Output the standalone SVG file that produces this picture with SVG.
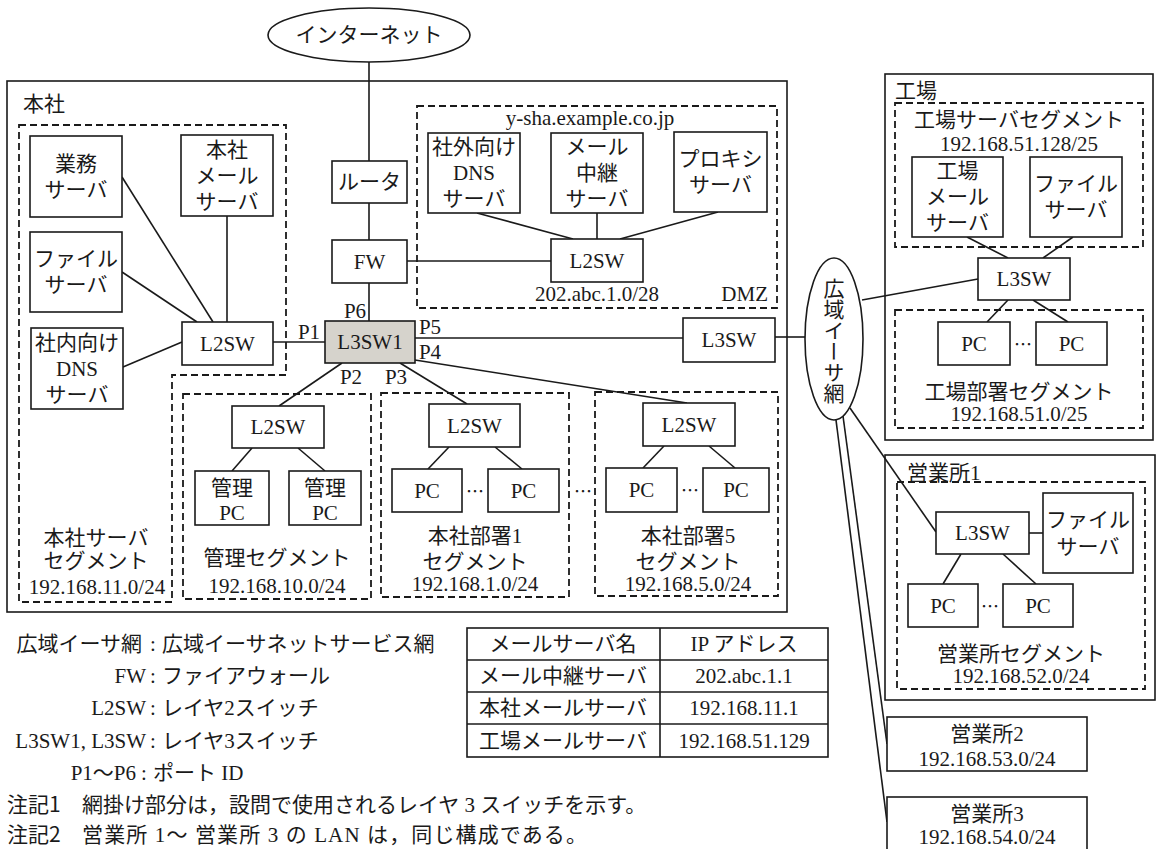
<svg xmlns="http://www.w3.org/2000/svg" width="1161" height="849" viewBox="0 0 1161 849">
<style>
text{font-family:"Liberation Serif","Noto Sans CJK JP",serif;font-size:21px;fill:#1a1a1a}
.m{text-anchor:middle}
.e{text-anchor:end}
.g{font-family:"Noto Sans CJK JP",sans-serif}
.b{fill:#fff;stroke:#1a1a1a;stroke-width:1.6}
.d{fill:none;stroke:#1a1a1a;stroke-width:1.8;stroke-dasharray:7 4}
.l{fill:none;stroke:#1a1a1a;stroke-width:1.6}
.dot{font-family:"Noto Sans CJK JP",sans-serif;font-size:18px;text-anchor:middle;dominant-baseline:central}
</style>
<rect width="1161" height="849" fill="#fff"/>

<g id="honsha">
<rect class="l" x="7" y="81" width="780" height="531"/>
<text x="23" y="111">本社</text>
</g>
<g id="seg-server">
<polygon class="d" points="19,125 286,125 286,375 172,375 172,602 19,602"/>
<text class="m" x="96" y="545">本社サーバ</text>
<text class="m" x="96" y="568">セグメント</text>
<text class="m" x="97" y="594">192.168.11.0/24</text>
</g>
<g id="dmz">
<rect class="d" x="417" y="106" width="360" height="202"/>
<text class="m" x="590" y="125">y-sha.example.co.jp</text>
<text class="m" x="597" y="301">202.abc.1.0/28</text>
<text class="e" x="768" y="301">DMZ</text>
</g>
<g id="seg-kanri">
<rect class="d" x="183" y="394" width="188" height="205"/>
<text class="m" x="277" y="565">管理セグメント</text>
<text class="m" x="277" y="593">192.168.10.0/24</text>
</g>
<g id="seg-bu1">
<rect class="d" x="381" y="393" width="188" height="204"/>
<text class="m" x="475" y="543">本社部署1</text>
<text class="m" x="475" y="569">セグメント</text>
<text class="m" x="475" y="591">192.168.1.0/24</text>
</g>
<g id="seg-bu5">
<rect class="d" x="595" y="392" width="183" height="204"/>
<text class="m" x="688" y="543">本社部署5</text>
<text class="m" x="688" y="569">セグメント</text>
<text class="m" x="688" y="591">192.168.5.0/24</text>
</g>
<g id="kojo">
<rect class="l" x="885" y="74" width="268" height="366"/>
<text x="895" y="98">工場</text>
</g>
<g id="seg-kojo-srv">
<rect class="d" x="895" y="103" width="248" height="144"/>
<text class="m" x="1019" y="127">工場サーバセグメント</text>
<text class="m" x="1019" y="151">192.168.51.128/25</text>
</g>
<g id="seg-kojo-bu">
<rect class="d" x="895" y="310" width="248" height="118"/>
<text class="m" x="1019" y="399">工場部署セグメント</text>
<text class="m" x="1019" y="421">192.168.51.0/25</text>
</g>
<g id="eigyo1">
<rect class="l" x="885" y="455" width="270" height="245"/>
<text x="907" y="480">営業所1</text>
</g>
<g id="seg-eigyo">
<rect class="d" x="897" y="482" width="248" height="207"/>
<text class="m" x="1021" y="661">営業所セグメント</text>
<text class="m" x="1021" y="683">192.168.52.0/24</text>
</g>

<g id="connectors">
<line class="l" x1="369" y1="62" x2="369" y2="161"/>
<line class="l" x1="369" y1="203" x2="369" y2="240"/>
<line class="l" x1="369" y1="283" x2="369" y2="321"/>
<line class="l" x1="407" y1="261" x2="551" y2="261"/>
<line class="l" x1="477" y1="213" x2="573" y2="239"/>
<line class="l" x1="597" y1="213" x2="597" y2="239"/>
<line class="l" x1="718" y1="212" x2="620" y2="239"/>
<line class="l" x1="122" y1="177" x2="213" y2="322"/>
<line class="l" x1="122" y1="272" x2="197" y2="322"/>
<line class="l" x1="227" y1="216" x2="227" y2="322"/>
<line class="l" x1="123" y1="367" x2="182" y2="342"/>
<line class="l" x1="273" y1="342" x2="325" y2="342"/>
<line class="l" x1="342" y1="363" x2="279" y2="406"/>
<line class="l" x1="400" y1="363" x2="467" y2="404"/>
<line class="l" x1="415" y1="360" x2="687" y2="403"/>
<line class="l" x1="415" y1="338" x2="683" y2="338"/>
<line class="l" x1="252" y1="448" x2="232" y2="471"/>
<line class="l" x1="298" y1="448" x2="325" y2="471"/>
<line class="l" x1="449" y1="447" x2="428" y2="469"/>
<line class="l" x1="495" y1="447" x2="522" y2="469"/>
<line class="l" x1="664" y1="446" x2="643" y2="468"/>
<line class="l" x1="709" y1="446" x2="735" y2="468"/>
<line class="l" x1="775" y1="337" x2="805" y2="337"/>
<line class="l" x1="862" y1="300" x2="978" y2="279"/>
<line class="l" x1="967" y1="237" x2="1008" y2="258"/>
<line class="l" x1="1073" y1="237" x2="1043" y2="258"/>
<line class="l" x1="1008" y1="300" x2="987" y2="322"/>
<line class="l" x1="1033" y1="300" x2="1068" y2="322"/>
<line class="l" x1="850" y1="408" x2="936" y2="532"/>
<line class="l" x1="1029" y1="533" x2="1043" y2="533"/>
<line class="l" x1="961" y1="554" x2="943" y2="584"/>
<line class="l" x1="1003" y1="554" x2="1036" y2="584"/>
<line class="l" x1="843" y1="416" x2="887" y2="744"/>
<line class="l" x1="836" y1="420" x2="887" y2="822"/>
</g>

<g id="internet">
<ellipse class="b" cx="369" cy="35" rx="101" ry="27"/>
<text class="m" x="369" y="42">インターネット</text>
</g>
<g id="gyomu-server">
<rect class="b" x="30" y="136" width="92" height="81"/>
<text class="m" x="76" y="171">業務</text>
<text class="m" x="76" y="197">サーバ</text>
</g>
<g id="honsha-mail">
<rect class="b" x="181" y="135" width="92" height="81"/>
<text class="m" x="227" y="157">本社</text>
<text class="m" x="227" y="183">メール</text>
<text class="m" x="227" y="209">サーバ</text>
</g>
<g id="file-hq">
<rect class="b" x="30" y="232" width="92" height="80"/>
<text class="m" x="76" y="266">ファイル</text>
<text class="m" x="76" y="292">サーバ</text>
</g>
<g id="dns-int">
<rect class="b" x="31" y="328" width="92" height="81"/>
<text class="m" x="77" y="350">社内向け</text>
<text class="m" x="77" y="376">DNS</text>
<text class="m" x="77" y="402">サーバ</text>
</g>
<g id="l2sw-srv">
<rect class="b" x="182" y="322" width="91" height="43"/>
<text class="m" x="227.5" y="351">L2SW</text>
</g>
<g id="router">
<rect class="b" x="332" y="161" width="75" height="42"/>
<text class="m" x="369.5" y="189">ルータ</text>
</g>
<g id="fw">
<rect class="b" x="332" y="240" width="75" height="43"/>
<text class="m" x="369.5" y="269">FW</text>
</g>
<g id="dns-ext">
<rect class="b" x="428" y="133" width="92" height="80"/>
<text class="m" x="474" y="154">社外向け</text>
<text class="m" x="474" y="180">DNS</text>
<text class="m" x="474" y="206">サーバ</text>
</g>
<g id="mail-relay">
<rect class="b" x="551" y="133" width="92" height="80"/>
<text class="m" x="597" y="154">メール</text>
<text class="m" x="597" y="180">中継</text>
<text class="m" x="597" y="206">サーバ</text>
</g>
<g id="proxy">
<rect class="b" x="674" y="132" width="93" height="80"/>
<text class="m" x="720.5" y="166">プロキシ</text>
<text class="m" x="720.5" y="192">サーバ</text>
</g>
<g id="l2sw-dmz">
<rect class="b" x="551" y="239" width="92" height="43"/>
<text class="m" x="597" y="268">L2SW</text>
</g>
<g id="l3sw1">
<rect x="325" y="321" width="90" height="42" fill="#d6d3cc" stroke="#1a1a1a" stroke-width="1.6"/>
<text class="m" x="370" y="349">L3SW1</text>
<text class="m" x="355" y="318">P6</text>
<text class="m" x="309" y="339">P1</text>
<text class="m" x="430" y="334">P5</text>
<text class="m" x="430" y="359">P4</text>
<text class="m" x="351" y="384">P2</text>
<text class="m" x="396" y="384">P3</text>
</g>
<g id="l2sw-kanri">
<rect class="b" x="232" y="406" width="92" height="42"/>
<text class="m" x="278" y="434">L2SW</text>
</g>
<g id="kanri-pc1">
<rect class="b" x="195" y="471" width="74" height="54"/>
<text class="m" x="232" y="495">管理</text>
<text class="m" x="232" y="520">PC</text>
</g>
<g id="kanri-pc2">
<rect class="b" x="289" y="471" width="72" height="54"/>
<text class="m" x="325" y="495">管理</text>
<text class="m" x="325" y="520">PC</text>
</g>
<g id="l2sw-bu1">
<rect class="b" x="429" y="404" width="91" height="43"/>
<text class="m" x="474.5" y="433">L2SW</text>
</g>
<g id="bu1-pc1">
<rect class="b" x="392" y="469" width="70" height="43"/>
<text class="m" x="427" y="498">PC</text>
</g>
<g id="bu1-pc2">
<rect class="b" x="488" y="469" width="71" height="43"/>
<text class="m" x="523.5" y="498">PC</text>
</g>
<g id="l2sw-bu5">
<rect class="b" x="643" y="403" width="92" height="43"/>
<text class="m" x="689" y="432">L2SW</text>
</g>
<g id="bu5-pc1">
<rect class="b" x="606" y="468" width="71" height="44"/>
<text class="m" x="641.5" y="497">PC</text>
</g>
<g id="bu5-pc2">
<rect class="b" x="703" y="468" width="66" height="44"/>
<text class="m" x="736" y="497">PC</text>
</g>
<g id="dots-hq">
<text class="dot" x="475" y="490">…</text>
<text class="dot" x="583" y="490">…</text>
<text class="dot" x="690" y="489">…</text>
</g>
<g id="l3sw-hq">
<rect class="b" x="683" y="318" width="92" height="44"/>
<text class="m" x="729" y="347">L3SW</text>
</g>
<g id="wan">
<ellipse class="b" cx="834" cy="339" rx="29" ry="81"/>
<text x="834" y="341" class="g" style="writing-mode:vertical-rl;text-anchor:middle">広域イーサ網</text>
</g>
<g id="kojo-mail">
<rect class="b" x="912" y="157" width="91" height="80"/>
<text class="m" x="957.5" y="178">工場</text>
<text class="m" x="957.5" y="204">メール</text>
<text class="m" x="957.5" y="230">サーバ</text>
</g>
<g id="kojo-file">
<rect class="b" x="1030" y="157" width="92" height="80"/>
<text class="m" x="1076" y="191">ファイル</text>
<text class="m" x="1076" y="217">サーバ</text>
</g>
<g id="kojo-l3sw">
<rect class="b" x="978" y="258" width="92" height="42"/>
<text class="m" x="1024" y="286">L3SW</text>
</g>
<g id="kojo-pc1">
<rect class="b" x="938" y="322" width="72" height="43"/>
<text class="m" x="974" y="351">PC</text>
</g>
<g id="kojo-pc2">
<rect class="b" x="1036" y="322" width="71" height="43"/>
<text class="m" x="1071.5" y="351">PC</text>
</g>
<text class="dot" x="1023" y="343">…</text>
<g id="eigyo1-l3sw">
<rect class="b" x="936" y="512" width="93" height="42"/>
<text class="m" x="982.5" y="540">L3SW</text>
</g>
<g id="eigyo1-file">
<rect class="b" x="1043" y="493" width="90" height="80"/>
<text class="m" x="1088" y="527">ファイル</text>
<text class="m" x="1088" y="554">サーバ</text>
</g>
<g id="eigyo1-pc1">
<rect class="b" x="908" y="584" width="70" height="43"/>
<text class="m" x="943" y="613">PC</text>
</g>
<g id="eigyo1-pc2">
<rect class="b" x="1003" y="584" width="70" height="43"/>
<text class="m" x="1038" y="613">PC</text>
</g>
<text class="dot" x="990" y="605">…</text>
<g id="eigyo2">
<rect class="b" x="887" y="717" width="200" height="54"/>
<text class="m" x="987" y="741">営業所2</text>
<text class="m" x="987" y="766">192.168.53.0/24</text>
</g>
<g id="eigyo3">
<rect class="b" x="887" y="797" width="200" height="70"/>
<text class="m" x="987" y="821">営業所3</text>
<text class="m" x="987" y="844">192.168.54.0/24</text>
</g>

<g id="legend">
<text class="e" x="142" y="651">広域イーサ網</text>
<text class="m" x="153" y="651">:</text>
<text x="162" y="651">広域イーサネットサービス網</text>
<text class="e" x="146" y="683">FW</text>
<text class="m" x="153" y="683">:</text>
<text x="162" y="683">ファイアウォール</text>
<text class="e" x="146" y="715">L2SW</text>
<text class="m" x="153" y="715">:</text>
<text x="162" y="715">レイヤ2スイッチ</text>
<text class="e" x="146" y="748">L3SW1, L3SW</text>
<text class="m" x="153" y="748">:</text>
<text x="162" y="748">レイヤ3スイッチ</text>
<text class="e" x="136" y="780">P1〜P6</text>
<text class="m" x="144" y="780">:</text>
<text x="153" y="780">ポート ID</text>
<text class="g" x="7" y="812">注記1</text>
<text x="82" y="812">網掛け部分は，設問で使用されるレイヤ 3 スイッチを示す。</text>
<text class="g" x="7" y="842">注記2</text>
<text x="82" y="842" textLength="505" lengthAdjust="spacing">営業所 1〜 営業所 3 の LAN は，同じ構成である。</text>
</g>
<g id="mail-table">
<rect class="l" x="467" y="628" width="361" height="129"/>
<line class="l" x1="467" y1="660" x2="828" y2="660"/>
<line class="l" x1="467" y1="692" x2="828" y2="692"/>
<line class="l" x1="467" y1="724" x2="828" y2="724"/>
<line class="l" x1="660" y1="628" x2="660" y2="757"/>
<text class="m" x="563" y="651">メールサーバ名</text>
<text class="m" x="744" y="651">IP アドレス</text>
<text class="m" x="563" y="683">メール中継サーバ</text>
<text class="m" x="744" y="683">202.abc.1.1</text>
<text class="m" x="563" y="715">本社メールサーバ</text>
<text class="m" x="744" y="715">192.168.11.1</text>
<text class="m" x="563" y="748">工場メールサーバ</text>
<text class="m" x="744" y="748">192.168.51.129</text>
</g>
</svg>
